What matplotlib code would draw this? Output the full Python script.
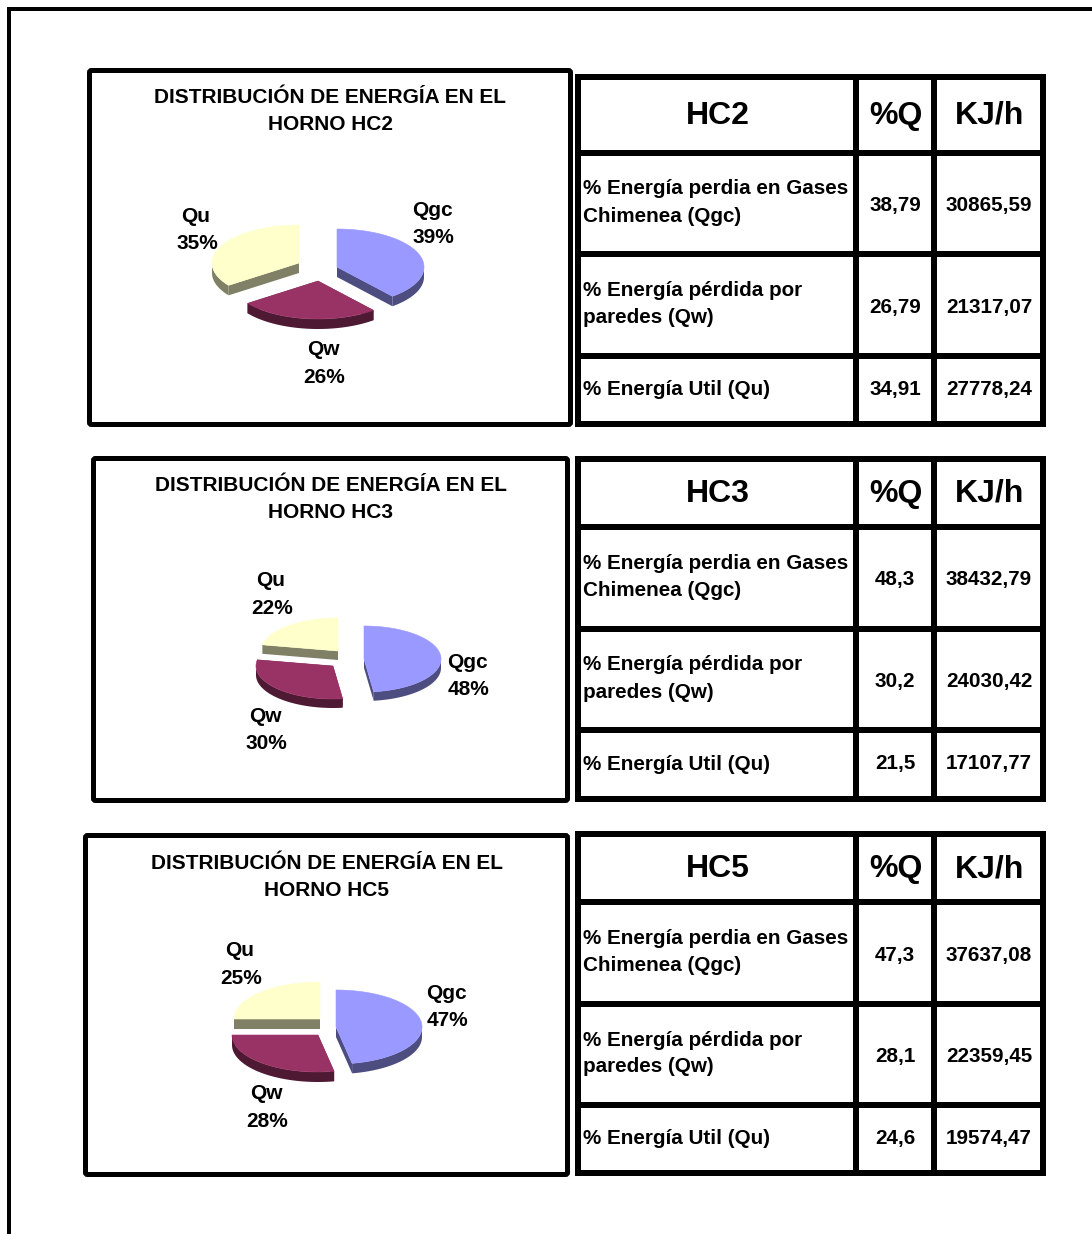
import numpy as np
import matplotlib
matplotlib.use("Agg")
import matplotlib.pyplot as plt
from matplotlib.patches import Polygon, Rectangle, FancyBboxPatch

plt.rcParams["font.family"] = ["Liberation Sans", "DejaVu Sans"]
plt.rcParams["font.weight"] = "bold"

# Energy balance per furnace
furnaces = ["HC2", "HC3", "HC5"]
slice_names = ["Qgc", "Qw", "Qu"]
shares_hc2 = [39, 26, 35]
shares_hc3 = [48, 30, 22]
shares_hc5 = [47, 28, 25]
percent_hc2 = ["38,79", "26,79", "34,91"]
percent_hc3 = ["48,3", "30,2", "21,5"]
percent_hc5 = ["47,3", "28,1", "24,6"]
kjh_hc2 = ["30865,59", "21317,07", "27778,24"]
kjh_hc3 = ["38432,79", "24030,42", "17107,77"]
kjh_hc5 = ["37637,08", "22359,45", "19574,47"]
row_labels = [
    ["% Energía perdia en Gases", "Chimenea (Qgc)"],
    ["% Energía pérdida por", "paredes (Qw)"],
    ["% Energía Util (Qu)"],
]

shares = [shares_hc2, shares_hc3, shares_hc5]
percents = [percent_hc2, percent_hc3, percent_hc5]
kjh = [kjh_hc2, kjh_hc3, kjh_hc5]

# Slice colours: top face and extruded side
TOP = ["#9999FF", "#993366", "#FFFFCC"]
SIDE = ["#4D4D80", "#4D1933", "#808066"]

W, H = 1092, 1234
fig = plt.figure(figsize=(W / 100, H / 100), dpi=100, facecolor="white")
ax = fig.add_axes([0, 0, 1, 1])
ax.set_xlim(0, W)
ax.set_ylim(H, 0)
ax.axis("off")

PX = 0.72  # points per pixel at 100 dpi


def block(x0, y0, x1, y1, color="black", z=1):
    ax.add_patch(Rectangle((x0, y0), x1 - x0, y1 - y0, fc=color, ec="none", zorder=z))


def label(x, y, s, px, ha="center"):
    # y is the baseline position
    ax.text(x, y, s, fontsize=px * PX, ha=ha, va="baseline", color="black", zorder=10)


def chart_frame(x0, y0, x1, y1):
    ax.add_patch(FancyBboxPatch((x0, y0), x1 - x0, y1 - y0, boxstyle="round,pad=0,rounding_size=2",
                                fc="white", ec="black", lw=5 * PX, zorder=2))


def arc_points(apex, rx, ry, start, end):
    t = np.radians(np.linspace(start, end, 90))
    return np.column_stack([apex[0] + rx * np.sin(t), apex[1] - ry * np.cos(t)])


def exploded_pie(values, apexes, rx, ry, depth):
    total = float(sum(values))
    drop = np.array([0, depth])
    start = 0.0
    for i, v in enumerate(values):
        end = start + 360.0 * v / total
        apex = np.array(apexes[i], dtype=float)
        arc = arc_points(apex, rx, ry, start, end)

        # radial cut faces
        for rim_pt in (arc[0], arc[-1]):
            quad = [apex, rim_pt, rim_pt + drop, apex + drop]
            ax.add_patch(Polygon(quad, closed=True, fc=SIDE[i], ec="none", zorder=4))

        # outer rim, only the part facing the viewer
        lo, hi = max(start, 90.0), min(end, 270.0)
        if hi > lo:
            rim = arc_points(apex, rx, ry, lo, hi)
            band = np.vstack([rim, (rim + drop)[::-1]])
            ax.add_patch(Polygon(band, closed=True, fc=SIDE[i], ec="none", zorder=4))

        top = np.vstack([[apex], arc])
        ax.add_patch(Polygon(top, closed=True, fc=TOP[i], ec=TOP[i], lw=0.4, zorder=5))
        start = end


# Page border: top and left rules only
block(7, 7, W, 11)
block(7, 7, 11, H)

frames = [(89.5, 70.5, 570.5, 424.5), (93.5, 458.5, 567.5, 800.5), (85.5, 835.5, 567.5, 1174.5)]
title_pos = [(330, 103, 130), (331, 491, 518), (327, 869, 896)]
pie_geom = [
    dict(apexes=[(337, 267), (318, 281), (299, 263)], rx=87, ry=38, depth=10),
    dict(apexes=[(364, 659), (333, 666), (338, 651)], rx=77, ry=33, depth=9),
    dict(apexes=[(336, 1027), (318, 1035), (320, 1019)], rx=86, ry=37, depth=10),
]
label_pos = [
    [(432, 216, 243), (323, 355, 383), (196, 222, 249)],
    [(467, 668, 695), (265, 722, 749), (271, 586, 614)],
    [(446, 999, 1026), (266, 1099, 1127), (240, 956, 984)],
]

# Table grid: white cell spans in x (shared) and y (per table)
col_spans = [(581, 853), (859, 931), (937, 1040)]
row_spans = [
    [(80, 150), (156, 251), (257, 353), (359, 421)],
    [(462, 524), (530, 626), (632, 727), (733, 796)],
    [(837, 899), (905, 1001), (1007, 1102), (1108, 1170)],
]
col_centres = [717, 895, 989]
head_centres = [718, 896, 990]
BODY = 20.7
HEAD = 32
TITLE = 20.9

for k, name in enumerate(furnaces):
    chart_frame(*frames[k])
    cx, y1, y2 = title_pos[k]
    label(cx, y1, "DISTRIBUCIÓN DE ENERGÍA EN EL", TITLE)
    label(cx, y2, f"HORNO {name}", TITLE)

    exploded_pie(shares[k], **pie_geom[k])
    for i, (lx, ly1, ly2) in enumerate(label_pos[k]):
        label(lx, ly1, slice_names[i], TITLE)
        label(lx + 1, ly2, f"{shares[k][i]}%", TITLE)

    rows = row_spans[k]
    block(575, rows[0][0] - 6, 1046, rows[-1][1] + 6, z=1)
    for (x0, x1) in col_spans:
        for (y0, y1) in rows:
            block(x0, y0, x1, y1, "white", z=2)

    head_base = sum(rows[0]) / 2 + 9
    for cc, s in zip(head_centres, [name, "%Q", "KJ/h"]):
        label(cc, head_base, s, HEAD)

    for r in range(3):
        y0, y1 = rows[r + 1]
        mid = (y0 + y1) / 2
        lines = row_labels[r]
        if len(lines) == 2:
            label(583, mid - 9, lines[0], BODY, ha="left")
            label(583, mid + 18, lines[1], BODY, ha="left")
            val_base = mid + 7.5
        else:
            label(583, mid + 5, lines[0], BODY, ha="left")
            val_base = mid + 5
        label(col_centres[1], val_base, percents[k][r], BODY)
        label(col_centres[2], val_base, kjh[k][r], BODY)

fig.savefig("out.png", dpi=100, facecolor="white")
